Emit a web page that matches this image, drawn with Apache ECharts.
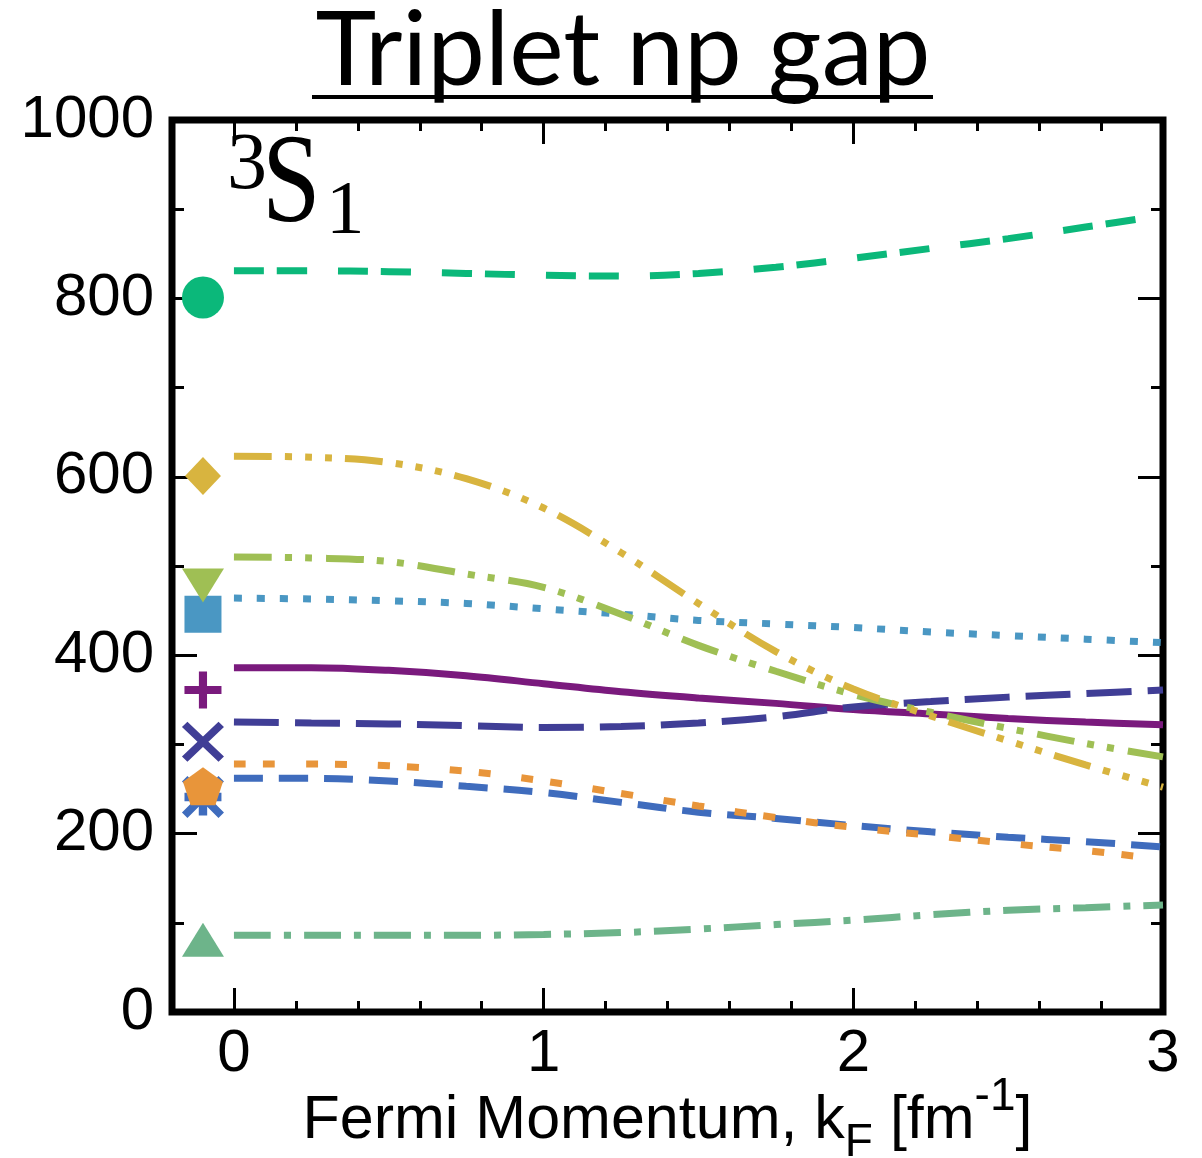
<!DOCTYPE html>
<html>
<head>
<meta charset="utf-8">
<title>Triplet np gap</title>
<script src="https://cdn.jsdelivr.net/npm/echarts@6/dist/echarts.min.js"></script>
<style>
  html, body { margin: 0; padding: 0; background: #ffffff; }
  #chart { width: 1202px; height: 1158px; }
</style>
</head>
<body>
<div id="chart"></div>
<script>
// Fermi momentum grid (fm^-1)
const kF = [0, 0.25, 0.5, 0.75, 1.0, 1.25, 1.5, 1.75, 2.0, 2.25, 2.5, 2.75, 3.0];

// Triplet (3S1) np gap for each interaction, same grid as kF
const gapGreenDash   = [831, 831, 830, 828, 826, 825, 828, 835, 845, 856, 867, 880, 893];
const gapGoldDDD     = [623, 622, 616, 598, 565, 515, 458, 404, 362, 332, 304, 277, 252];
const gapLimeDD      = [510, 509, 505, 491, 476, 446, 411, 382, 356, 336, 318, 301, 286];
const gapBlueDot     = [464, 463, 461, 458, 452, 446, 439, 435, 431, 426, 422, 418, 414];
const gapPurple      = [386, 386, 383, 377, 368, 359, 352, 346, 339, 334, 329, 325, 322];
const gapIndigoDash  = [325, 324, 323, 321, 319, 320, 324, 331, 342, 348, 353, 357, 361];
const gapOrangeDot   = [278, 278, 276, 270, 259, 245, 231, 218, 207, 198, 189, 181, 171];
const gapBlueDash    = [262, 262, 259, 253, 246, 235, 224, 217, 209, 202, 196, 191, 185];
const gapTealDashDot = [86, 86, 86, 86, 87, 89, 93, 98, 103, 109, 114, 117, 120];

// Reference points drawn just left of kF = 0
const markerX = -0.1;
const markerValues = {
  circle: 801, diamond: 601, triangleDown: 478, square: 446,
  plus: 361, cross: 303, pentagon: 253, asterisk: 241, triangleUp: 81
};

// Axis tick labels
const xTickLabels = [0, 1, 2, 3];
const xMinorTicks = [0.2, 0.4, 0.6, 0.8, 1.2, 1.4, 1.6, 1.8, 2.2, 2.4, 2.6, 2.8];

const pair = (ys) => kF.map((x, i) => [x, ys[i]]);

const C = {
  green: '#0bb87a', gold: '#d8b43f', lime: '#9fbf54', blueDot: '#4a97c3',
  purple: '#7a1a7d', indigo: '#403e96', orange: '#e8953a', blueDash: '#3f6cbd',
  teal: '#6db48a'
};

const SYM = {
  plus: 'path://M0,39 L100,39 L100,61 L0,61 Z M39,0 L61,0 L61,100 L39,100 Z',
  cross: 'path://M0,13 L13,0 L100,87 L87,100 Z M87,0 L100,13 L13,100 L0,87 Z',
  asterisk: 'path://M0,13 L13,0 L100,87 L87,100 Z M87,0 L100,13 L13,100 L0,87 Z M6,40 L94,40 L94,60 L6,60 Z M40,6 L60,6 L60,94 L40,94 Z',
  pentagon: 'path://M50,0 L100,38.2 L80.9,100 L19.1,100 L0,38.2 Z'
};

function curve(name, ys, color, dash) {
  return {
    name, type: 'line', data: pair(ys), smooth: 0.35,
    showSymbol: false, symbol: 'none', z: 3,
    lineStyle: { color, width: 7, type: dash, cap: 'butt' },
    emphasis: { disabled: true }, silent: true
  };
}

function marker(name, value, color, symbol, size, rotate) {
  return {
    name, type: 'scatter', data: [[markerX, value]], z: 4,
    symbol, symbolSize: size, symbolRotate: rotate || 0,
    itemStyle: { color, opacity: 1 },
    emphasis: { disabled: true }, silent: true
  };
}

const tickStyle = { color: '#000', width: 3 };
const labelFont = { fontFamily: 'Liberation Sans', fontSize: 60, color: '#000' };

function xAx(position, values, len, withLabels) {
  return {
    type: 'value', position, min: -0.2, max: 3, gridIndex: 0,
    axisLine: { show: false, onZero: false }, splitLine: { show: false },
    axisTick: { show: true, inside: true, length: len, lineStyle: tickStyle, customValues: values },
    axisLabel: withLabels
      ? Object.assign({ show: true, margin: 12, customValues: xTickLabels, formatter: (v) => String(v) }, labelFont)
      : { show: false }
  };
}

function yAx(position, interval, len, withLabels) {
  return {
    type: 'value', position, min: 0, max: 1000, interval, gridIndex: 0,
    axisLine: { show: false, onZero: false }, splitLine: { show: false },
    axisTick: { show: true, inside: true, length: len, lineStyle: tickStyle },
    axisLabel: withLabels
      ? Object.assign({ show: true, margin: 18, formatter: (v) => String(v) }, labelFont)
      : { show: false }
  };
}

const xMain = xAx('bottom', xTickLabels, 24, true);
xMain.name = '{a|Fermi Momentum, k}{sub|F}{a| [fm}{sup|-1}{a|]}';
xMain.nameLocation = 'middle';
xMain.nameGap = 73;
xMain.nameMoveOverlap = false;
xMain.nameTextStyle = {
  color: '#000', fontFamily: 'Liberation Sans',
  rich: {
    a: { fontFamily: 'Liberation Sans', fontSize: 61, lineHeight: 72, color: '#000' },
    sub: { fontFamily: 'Liberation Sans', fontSize: 46, lineHeight: 46, padding: [44, 0, 0, 0], color: '#000' },
    sup: { fontFamily: 'Liberation Sans', fontSize: 46, lineHeight: 46, padding: [0, 0, 48, 0], color: '#000' }
  }
};

const option = {
  backgroundColor: '#ffffff',
  animation: false,
  grid: {
    left: 172, right: 39, top: 120, bottom: 146,
    outerBoundsMode: 'none', containLabel: false,
    show: true, borderColor: '#000', borderWidth: 7, backgroundColor: 'transparent'
  },
  xAxis: [
    xMain,
    xAx('bottom', xMinorTicks, 11, false),
    xAx('top', xTickLabels, 24, false),
    xAx('top', xMinorTicks, 11, false)
  ],
  yAxis: [
    yAx('left', 200, 25, true),
    yAx('left', 100, 12, false),
    yAx('right', 200, 25, false),
    yAx('right', 100, 12, false)
  ],
  graphic: [
    { type: 'text', x: 623, y: 52, style: { text: 'Triplet np gap', font: '103px Lato', fill: '#000', textAlign: 'center', textVerticalAlign: 'middle' } },
    { type: 'line', shape: { x1: 312, y1: 97, x2: 933, y2: 97 }, style: { stroke: '#000', lineWidth: 4 } },
    { type: 'text', x: 227, y: 167, style: { text: '3', font: '80px "Liberation Serif"', fill: '#000', textAlign: 'left', textVerticalAlign: 'middle' } },
    { type: 'text', x: 262, y: 188, scaleX: 0.83, style: { text: 'S', font: '127px "Liberation Serif"', fill: '#000', textAlign: 'left', textVerticalAlign: 'middle' } },
    { type: 'text', x: 326, y: 213, style: { text: '1', font: '77px "Liberation Serif"', fill: '#000', textAlign: 'left', textVerticalAlign: 'middle' } }
  ],
  series: [
    curve('teal', gapTealDashDot, C.teal, [37, 13, 7, 13]),
    curve('blueDash', gapBlueDash, C.blueDash, [29, 16]),
    curve('orange', gapOrangeDot, C.orange, [12, 17, 12, 31]),
    curve('purple', gapPurple, C.purple, 'solid'),
    curve('indigo', gapIndigoDash, C.indigo, [45, 16]),
    curve('blueDot', gapBlueDot, C.blueDot, [8, 15]),
    curve('lime', gapLimeDD, C.lime, [38, 13, 7, 13, 7, 14]),
    curve('gold', gapGoldDDD, C.gold, [38, 13, 7, 13, 7, 13, 7, 13]),
    curve('green', gapGreenDash, C.green, [30, 13, 30, 31]),

    marker('mTeal', markerValues.triangleUp, C.teal, 'triangle', [42, 34]),
    marker('mBlueDash', markerValues.asterisk, C.blueDash, SYM.asterisk, [42, 42]),
    marker('mOrange', markerValues.pentagon, C.orange, SYM.pentagon, [40, 38]),
    marker('mIndigo', markerValues.cross, C.indigo, SYM.cross, [42, 40]),
    marker('mPurple', markerValues.plus, C.purple, SYM.plus, [37, 37]),
    marker('mBlueDot', markerValues.square, C.blueDot, 'rect', [37, 37]),
    marker('mLime', markerValues.triangleDown, C.lime, 'triangle', [42, 34], 180),
    marker('mGold', markerValues.diamond, C.gold, 'diamond', [36, 38]),
    marker('mGreen', markerValues.circle, C.green, 'circle', [42, 42])
  ]
};

const chart = echarts.init(document.getElementById('chart'), null, { renderer: 'canvas' });
chart.setOption(option);
</script>
</body>
</html>
